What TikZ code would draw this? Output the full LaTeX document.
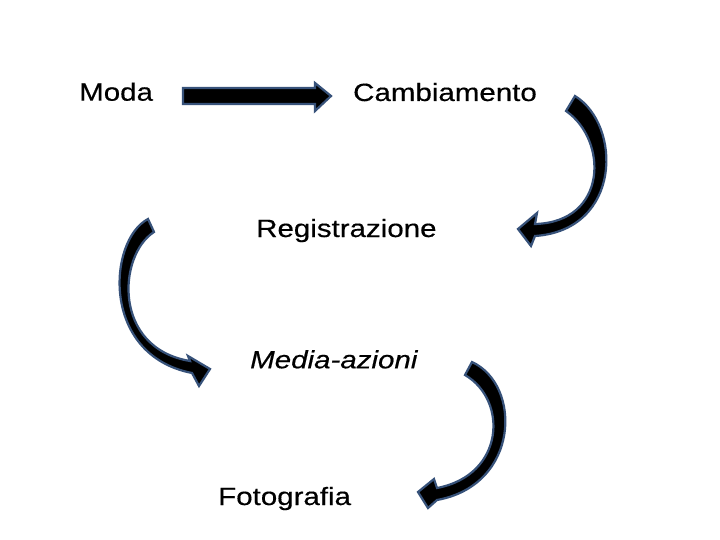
\documentclass[tikz,border=0pt]{standalone}
\usepackage{fontspec}
\usepackage{graphicx}
\setmainfont{Liberation Sans}
\newfontfamily\lblfont[FakeBold=0.35]{Liberation Sans}
\definecolor{edgeblue}{RGB}{55,82,122}
\newcommand{\wide}[1]{\scalebox{1.18}[1]{#1}}
\begin{document}
\begin{tikzpicture}[x=1pt,y=-1pt,
  lbl/.style={anchor=base west,inner sep=0pt,font=\fontsize{25}{30}\lblfont},
  blockarrow/.style={fill=black,draw=edgeblue,line width=2.2pt,line join=miter}]
\useasboundingbox (0,0) rectangle (720,540);
\fill[white] (0,0) rectangle (720,540);
\node[lbl] (moda) at (79,100.7) {\wide{Moda}};
\node[lbl] (camb) at (353,101) {\wide{Cambiamento}};
\node[lbl] (reg) at (256,237) {\wide{Registrazione}};
\node[lbl] (media) at (250,368.3) {\wide{\itshape Media-azioni}};
\node[lbl] (foto) at (218,505) {\wide{Fotografia}};
% straight arrow
\path[blockarrow] (183,88) -- (315,88) -- (315,83) -- (331,96) -- (315,111) -- (315,104) -- (183,104) -- cycle;
% curved arrow right (Cambiamento -> Registrazione)
\path[blockarrow] (575,96) .. controls (622,125) and (622,230) .. (535,236)
  -- (531,246) -- (518,229) -- (537,213) -- (535,224)
  .. controls (608,222) and (608,140) .. (566,111) -- cycle;
% curved arrow left (-> Media-azioni)
\path[blockarrow] (148,219) .. controls (108,240) and (100,355) .. (192,373)
  -- (199,386) -- (210,369) -- (188,356) -- (190,361)
  .. controls (112,348) and (118,255) .. (154,232) -- cycle;
% curved arrow right lower (-> Fotografia)
\path[blockarrow] (472,362) .. controls (522,385) and (520,485) .. (437,500)
  -- (428,508) -- (418,492) -- (434,479) -- (437,488)
  .. controls (505,475) and (508,400) .. (465,375) -- cycle;
\end{tikzpicture}
\end{document}
